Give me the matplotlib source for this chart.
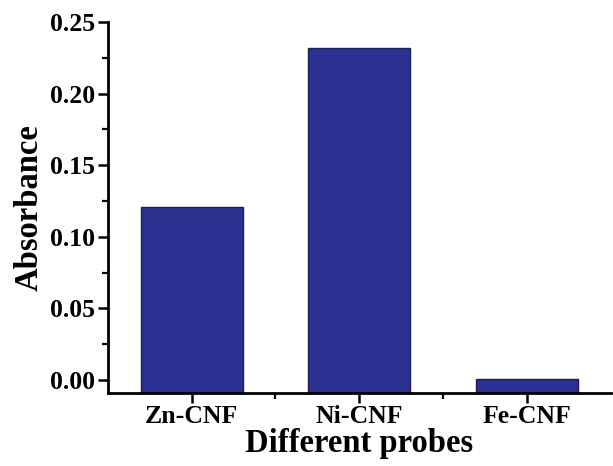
import numpy as np
import matplotlib
matplotlib.use("Agg")
import matplotlib.pyplot as plt
from matplotlib.ticker import MultipleLocator, FixedLocator

probes = ["Zn-CNF", "Ni-CNF", "Fe-CNF"]
absorbance = [0.121, 0.232, 0.001]
y_ticks = [0.00, 0.05, 0.10, 0.15, 0.20, 0.25]

plt.rcParams["font.family"] = ["Liberation Serif", "DejaVu Serif"]
plt.rcParams["font.weight"] = "bold"

fig = plt.figure(figsize=(6.13, 4.66), dpi=100)
ax = fig.add_axes([0.176, 0.157, 0.82, 0.796])

ymin = -0.009
x = np.arange(1, len(probes) + 1)
heights = [v - ymin for v in absorbance]
ax.bar(x, heights, bottom=ymin, width=0.61, color="#2b3190",
       edgecolor="#1c1f55", linewidth=1.0)

ax.set_xlim(0.5, 3.5)
ax.set_ylim(ymin, 0.25)
ax.set_xticks(x)
ax.set_xticklabels(probes)
ax.xaxis.set_minor_locator(FixedLocator([1.5, 2.5]))
ax.set_yticks(y_ticks)
ax.set_yticklabels([f"{t:.2f}" for t in y_ticks])
ax.yaxis.set_minor_locator(MultipleLocator(0.025))

for side in ("top", "right"):
    ax.spines[side].set_visible(False)
for side in ("left", "bottom"):
    ax.spines[side].set_linewidth(2.0)

ax.tick_params(which="major", direction="out", length=7, width=1.8,
               labelsize=18.5, pad=2)
ax.tick_params(which="minor", direction="out", length=4, width=1.6)

ax.set_xlabel("Different probes", fontsize=23.5, fontweight="bold", labelpad=0)
ax.set_ylabel("Absorbance", fontsize=23.5, fontweight="bold", labelpad=4)

fig.savefig("out.png", dpi=100)
